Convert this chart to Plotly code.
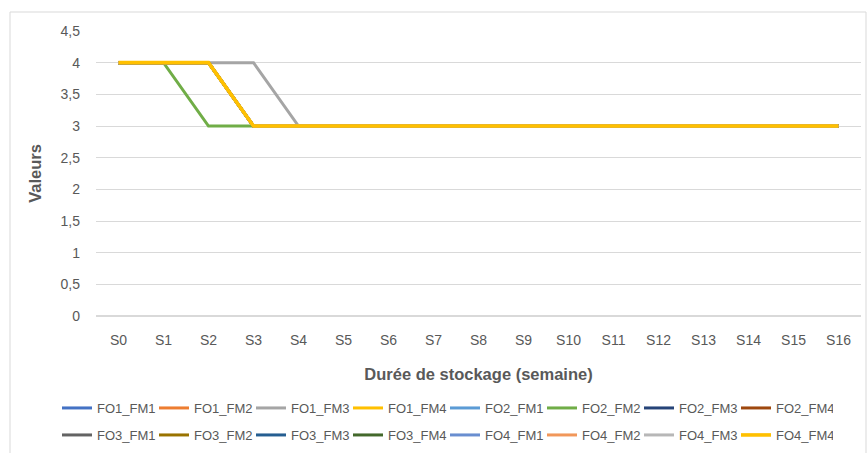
import plotly.graph_objects as go

weeks = [f"S{i}" for i in range(17)]
series_names = ["FO1_FM1", "FO1_FM2", "FO1_FM3", "FO1_FM4",
                "FO2_FM1", "FO2_FM2", "FO2_FM3", "FO2_FM4",
                "FO3_FM1", "FO3_FM2", "FO3_FM3", "FO3_FM4",
                "FO4_FM1", "FO4_FM2", "FO4_FM3", "FO4_FM4"]
colors = ["#4472C4", "#ED7D31", "#A5A5A5", "#FFC000",
          "#5B9BD5", "#70AD47", "#264478", "#9E480E",
          "#636363", "#997300", "#255E91", "#43682B",
          "#698ED0", "#F1975A", "#B7B7B7", "#FFC000"]

base = [4, 4, 4, 3, 3, 3, 3, 3, 3, 3, 3, 3, 3, 3, 3, 3, 3]
fo1_fm3 = [4, 4, 4, 4, 3, 3, 3, 3, 3, 3, 3, 3, 3, 3, 3, 3, 3]
fo2_fm2 = [4, 4, 3, 3, 3, 3, 3, 3, 3, 3, 3, 3, 3, 3, 3, 3, 3]
values = {name: base for name in series_names}
values["FO1_FM3"] = fo1_fm3
values["FO2_FM2"] = fo2_fm2

FONT = "Liberation Sans"
NARROW = "Liberation Sans Narrow, Liberation Sans"
fig = go.Figure()
for i, name in enumerate(series_names):
    fig.add_trace(go.Scatter(
        x=weeks, y=values[name], mode="lines", name=name,
        line=dict(color=colors[i], width=3.6 if i == len(series_names) - 1 else 3),
        legend="legend" if i < 8 else "legend2",
    ))

PL, PW, PT, PH = 96, 765, 31, 285
legend_common = dict(orientation="h", xref="paper", yref="paper",
                     xanchor="left", yanchor="middle", x=(57 - PL) / PW,
                     font=dict(family=NARROW, size=13, color="#595959"),
                     entrywidth=52, entrywidthmode="pixels",
                     itemwidth=30, bgcolor="rgba(0,0,0,0)")

fig.update_layout(
    width=867, height=453,
    margin=dict(l=PL, r=867 - PL - PW, t=PT, b=453 - PT - PH, autoexpand=False),
    paper_bgcolor="white", plot_bgcolor="white",
    separators=", ",
    font=dict(family=FONT, color="#595959"),
    showlegend=True,
    legend=dict(legend_common, y=(PT + PH - 408) / PH),
    legend2=dict(legend_common, y=(PT + PH - 435) / PH),
    xaxis=dict(type="category", range=[-0.5, 16.5], showgrid=False,
               showline=False, ticks="", ticklabelstandoff=14,
               tickfont=dict(size=14, color="#595959"),
               title=dict(text="<b>Durée de stockage (semaine)</b>",
                          font=dict(size=16.5, color="#595959"), standoff=21)),
    yaxis=dict(range=[0, 4.5], dtick=0.5, showgrid=True, gridcolor="#D9D9D9",
               gridwidth=1, zeroline=True, zerolinecolor="#D9D9D9", showline=False,
               ticks="", ticklabelstandoff=15, tickfont=dict(size=14, color="#595959"),
               title=dict(text="<b>Valeurs</b>", font=dict(size=16.5, color="#595959"),
                          standoff=14)),
    shapes=[dict(type="rect", xref="paper", yref="paper",
                 x0=(10 - PL) / PW, x1=(866 - PL) / PW,
                 y0=-0.6, y1=(PT + PH - 12) / PH,
                 line=dict(color="#D9D9D9", width=1), layer="below")],
)

fig.write_html("out.html", config={"displayModeBar": False},
               post_script="document.body.style.margin='0';")
